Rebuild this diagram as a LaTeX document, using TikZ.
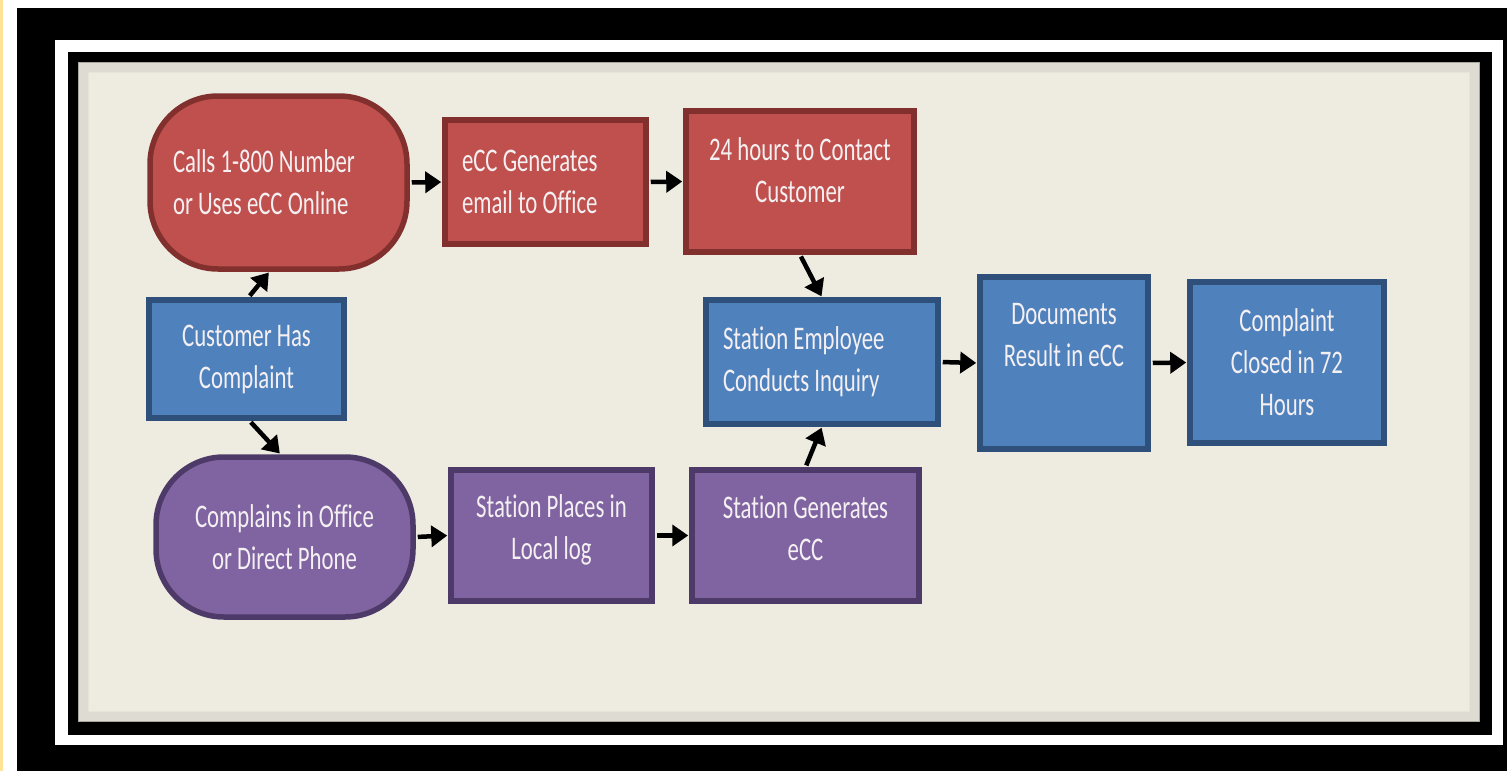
\documentclass[tikz,border=0pt]{standalone}
\usepackage{fontspec}
\setmainfont[FakeStretch=0.69,Ligatures={NoCommon}]{Carlito}
\usetikzlibrary{arrows.meta,positioning}

\definecolor{bgbeige}{RGB}{238,236,225}
\definecolor{paleyellow}{RGB}{255,226,150}
\definecolor{textwhite}{RGB}{244,240,242}
\definecolor{redfill}{RGB}{192,80,77}
\definecolor{redline}{RGB}{130,48,46}
\definecolor{bluefill}{RGB}{79,129,189}
\definecolor{blueline}{RGB}{46,80,122}
\definecolor{purpfill}{RGB}{128,100,162}
\definecolor{purpline}{RGB}{78,58,104}

\tikzset{
  txt/.style={text=textwhite, align=center, font=\fontsize{33}{42}\selectfont},
  box/.style={draw, line width=5.5pt, inner sep=4pt, txt},
  redbox/.style={box, fill=redfill, draw=redline},
  bluebox/.style={box, fill=bluefill, draw=blueline},
  purpbox/.style={box, fill=purpfill, draw=purpline},
  term/.style={rounded corners=68pt},
  arr/.style={line width=4.5pt, -{Triangle[length=16pt,width=21pt]},
    shorten <=2pt, shorten >=1pt}
}

\begin{document}
\begin{tikzpicture}[x=1pt,y=-1pt]
    \useasboundingbox (0,0) rectangle (1507,771);

    % Frame
    \fill[white] (0,0) rectangle (1507,771);
    \fill[paleyellow] (0,0) rectangle (3,771);
    \fill[black] (17,8) rectangle (1507,771);
    \fill[white] (55,40) rectangle (1503,745);
    \fill[black] (68,52) rectangle (1492,735);
    \fill[bgbeige] (78,62) rectangle (1480,722);
    \foreach \d in {1,...,10}
        \draw[black, opacity=0.03, line width=2pt] (78,62) rectangle (1480,722)
            (78+\d,62+\d) rectangle (1480-\d,722-\d);

    % Top row (online complaint)
    \node[redbox, term, align=flush left, inner xsep=23pt, text width=211pt,
          minimum width=257pt, minimum height=173pt] (calls) at (278.5,182.5)
          {Calls 1-800 Number\\or Uses eCC Online};
    \node[redbox, align=flush left, inner xsep=17pt, text width=167pt,
          minimum width=201pt, minimum height=124pt] (ecc) at (545.5,182)
          {eCC Generates\\email to Office};
    \node[redbox, minimum width=228pt, minimum height=141pt,
          label={[name=hours-t, txt, yshift=11pt]center:{24 hours to Contact\\Customer}}]
          (hours) at (800,181.5) {};

    % Middle row
    \node[bluebox, minimum width=195pt, minimum height=118pt] (cust) at (246.5,359)
          {Customer Has\\Complaint};
    \node[bluebox, align=flush left, inner xsep=17pt, text width=198pt,
          minimum width=232pt, minimum height=124pt] (inquiry) at (822,362)
          {Station Employee\\Conducts Inquiry};
    \node[bluebox, minimum width=168pt, minimum height=172pt,
          label={[name=docs-t, txt, yshift=28pt]center:{Documents\\Result in eCC}}]
          (docs) at (1064,363) {};
    \node[bluebox, minimum width=194pt, minimum height=161pt] (closed) at (1287,362.5)
          {Complaint\\Closed in 72\\Hours};

    % Bottom row (office complaint)
    \node[purpbox, term, minimum width=257pt, minimum height=160pt] (office) at (284.5,537)
          {Complains in Office\\or Direct Phone};
    \node[purpbox, minimum width=201pt, minimum height=131pt,
          label={[name=places-t, txt, yshift=6pt]center:{Station Places in\\Local log}}]
          (places) at (551.5,535.5) {};
    \node[purpbox, minimum width=227pt, minimum height=131pt,
          label={[name=gen-t, txt, yshift=7pt]center:{Station Generates\\eCC}}]
          (gen) at (805.5,535.5) {};

    % Connectors
    \draw[arr] ([xshift=2pt]cust.north) -- ([xshift=-9pt]calls.south);
    \draw[arr] ([xshift=3pt]cust.south) -- ([xshift=-4pt]office.north);
    \draw[arr] (calls.east) -- (ecc.west);
    \draw[arr] (ecc.east) -- (hours.west);
    \draw[arr] (hours.south) -- (inquiry.north);
    \draw[arr] (gen.north) -- (inquiry.south);
    \draw[arr] (office.east) -- (places.west);
    \draw[arr] (places.east) -- (gen.west);
    \draw[arr] (inquiry.east) -- (docs.west);
    \draw[arr] (docs.east) -- (closed.west);
\end{tikzpicture}
\end{document}
